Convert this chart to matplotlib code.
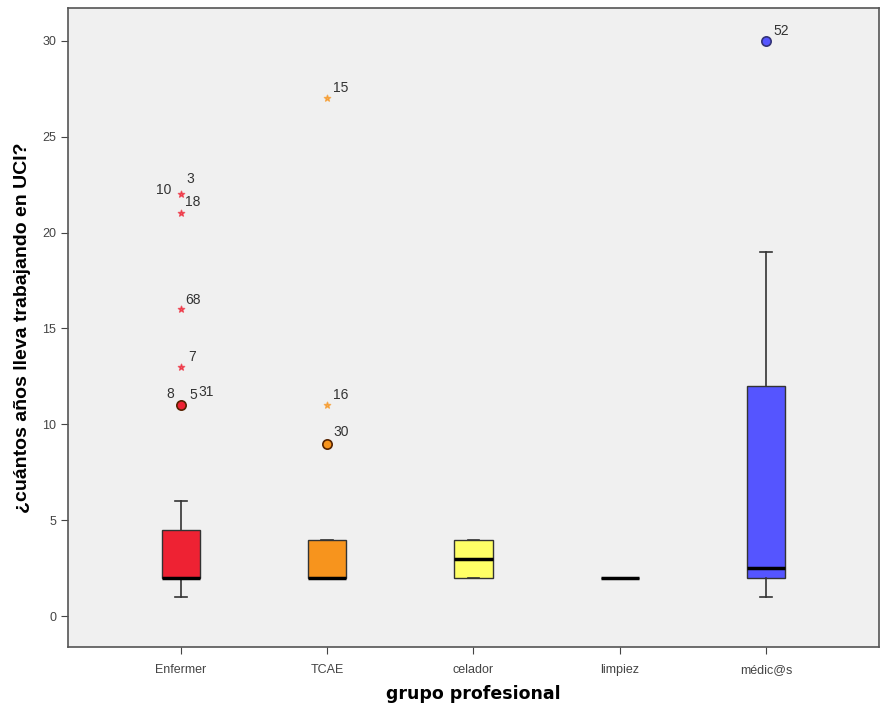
import matplotlib
matplotlib.use("Agg")
import matplotlib.pyplot as plt

categories = ["Enfermer", "TCAE", "celador", "limpiez", "médic@s"]
whislo = [1, 2, 2, 2, 1]
q1 = [2, 2, 2, 2, 2]
med = [2, 2, 3, 2, 2.5]
q3 = [4.5, 4, 4, 2, 12]
whishi = [6, 4, 4, 2, 19]
colors = ["#ee2233", "#f7941d", "#ffff66", "#888888", "#5555ff"]

# outliers: category index, value, kind
out_cat = [0, 0, 0, 0, 0, 1, 1, 1, 4]
out_val = [11, 13, 16, 21, 22, 9, 11, 27, 30]
out_kind = ["o", "*", "*", "*", "*", "o", "*", "*", "o"]

# case labels: text, category, value
lab_text = ["3", "10", "18", "68", "7", "8", "5", "31", "15", "16", "30", "52"]
lab_cat = [0, 0, 0, 0, 0, 0, 0, 0, 1, 1, 1, 4]
lab_val = [22, 22, 21, 16, 13, 11, 11, 11, 27, 11, 9, 30]

fig = plt.figure(figsize=(8.8, 7.16), dpi=100)
ax = fig.add_axes([0.0773, 0.0964, 0.9215, 0.8924])
ax.set_facecolor("#f0f0f0")

stats = []
for i in range(len(categories)):
    stats.append(dict(whislo=whislo[i], q1=q1[i], med=med[i], q3=q3[i],
                      whishi=whishi[i], fliers=[], label=categories[i]))
bp = ax.bxp(stats, positions=range(len(categories)), widths=0.26,
            patch_artist=True, showfliers=False,
            boxprops=dict(edgecolor="#333333", linewidth=1.0),
            medianprops=dict(color="black", linewidth=2.5),
            whiskerprops=dict(color="#333333", linewidth=1.2),
            capprops=dict(color="#333333", linewidth=1.2), capwidths=0.08)
for patch, c in zip(bp["boxes"], colors):
    patch.set_facecolor(c)

for i in range(len(out_cat)):
    ci = out_cat[i]
    if out_kind[i] == "o":
        ax.scatter([ci], [out_val[i]], s=45, color=colors[ci],
                   edgecolor="#552200" if ci != 4 else "#333377", linewidth=1.2, zorder=5)
    else:
        ax.scatter([ci], [out_val[i]], s=22, marker="*", color=colors[ci], alpha=0.7, zorder=5)

# offsets of labels relative to their point (in data units)
dx = {"3": 0.04, "10": -0.17, "18": 0.03, "68": 0.03, "7": 0.05, "8": -0.1,
      "5": 0.06, "31": 0.12, "15": 0.04, "16": 0.04, "30": 0.04, "52": 0.05}
dy = {"3": 0.6, "10": 0.0, "18": 0.4, "68": 0.3, "7": 0.3, "8": 0.4,
      "5": 0.3, "31": 0.5, "15": 0.3, "16": 0.3, "30": 0.4, "52": 0.3}
for t, c, v in zip(lab_text, lab_cat, lab_val):
    ax.text(c + dx[t], v + dy[t], t, fontsize=10, color="#333333",
            family="Liberation Sans")

ax.set_xlim(-0.77, 4.77)
ax.set_ylim(-1.6, 31.7)
ax.set_yticks([0, 5, 10, 15, 20, 25, 30])
ax.set_xticks(range(len(categories)))
ax.set_xticklabels(categories)
ax.tick_params(axis="both", labelsize=9, labelcolor="#444444", color="#444444", length=5)
ax.tick_params(axis="x", length=5, pad=7)
for lbl in ax.get_xticklabels() + ax.get_yticklabels():
    lbl.set_family("Liberation Sans")
for s in ax.spines.values():
    s.set_color("#555555")
    s.set_linewidth(1.2)
ax.set_xlabel("grupo profesional", fontsize=12.5, fontweight="bold", labelpad=7)
ax.set_ylabel("¿cuántos años lleva trabajando en UCI?", fontsize=14, fontweight="bold",
              labelpad=8, family="Liberation Sans")

fig.savefig("out.png", dpi=100)
